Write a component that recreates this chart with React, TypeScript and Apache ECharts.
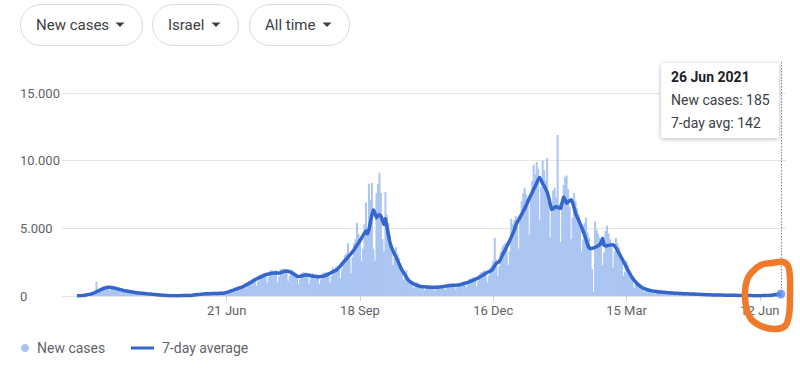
import React, { useEffect, useRef } from "react";
import * as echarts from "echarts";

// Day 0 = 13 Mar 2020, last day = 26 Jun 2021
const casesMar20 = [12, 8, 18, 38, 50, 70, 95, 105, 80, 130, 200, 250, 300, 1050, 380, 290, 420, 620, 700];
const avgMar20 = [10, 15, 20, 30, 45, 60, 80, 100, 120, 140, 170, 210, 260, 310, 370, 420, 470, 520, 570];
const casesApr20 = [690, 720, 650, 420, 560, 740, 700, 640, 600, 470, 300, 380, 480, 440, 410, 390, 330, 200, 260, 320, 300, 270, 260, 210, 130, 180, 230, 210, 180, 170];
const avgApr20 = [600, 630, 640, 640, 630, 610, 590, 560, 530, 500, 470, 440, 410, 390, 370, 350, 330, 310, 290, 270, 250, 240, 230, 220, 210, 200, 190, 175, 160, 150];
const casesMay20 = [130, 80, 100, 125, 115, 100, 90, 65, 35, 42, 48, 40, 33, 28, 20, 10, 16, 22, 24, 25, 28, 26, 15, 24, 32, 36, 50, 70, 80, 60, 95];
const avgMay20 = [140, 130, 120, 110, 100, 90, 80, 70, 60, 50, 40, 35, 30, 25, 22, 20, 18, 18, 20, 22, 25, 28, 30, 30, 28, 30, 35, 45, 60, 75, 90];
const casesJun20 = [120, 130, 125, 140, 120, 95, 140, 190, 200, 190, 195, 165, 110, 160, 220, 225, 210, 230, 210, 150, 230, 340, 400, 430, 470, 430, 300, 460, 640, 720];
const avgJun20 = [100, 110, 120, 130, 140, 150, 160, 165, 170, 175, 180, 185, 190, 190, 190, 195, 200, 210, 225, 245, 270, 300, 340, 380, 420, 460, 500, 540, 580, 620];
const casesJul20 = [720, 780, 720, 520, 760, 1090, 1150, 1200, 1280, 1150, 780, 1100, 1560, 1630, 1620, 1700, 1500, 950, 1400, 1880, 1920, 1850, 1880, 1620, 1020, 1450, 1980, 2020, 1990, 2010, 1750];
const avgJul20 = [650, 700, 760, 820, 880, 940, 1000, 1070, 1140, 1210, 1270, 1320, 1370, 1420, 1470, 1530, 1580, 1610, 1630, 1650, 1670, 1690, 1700, 1710, 1700, 1690, 1720, 1760, 1800, 1830, 1850];
const casesAug20 = [1100, 1500, 1950, 1900, 1780, 1700, 1380, 880, 1250, 1700, 1750, 1720, 1730, 1450, 900, 1300, 1680, 1650, 1600, 1580, 1350, 860, 1230, 1680, 1720, 1750, 1760, 1520, 1000, 1480, 2100];
const avgAug20 = [1830, 1790, 1740, 1680, 1610, 1530, 1460, 1440, 1450, 1480, 1510, 1540, 1560, 1550, 1530, 1500, 1480, 1460, 1450, 1440, 1430, 1430, 1440, 1460, 1490, 1530, 1570, 1620, 1680, 1740, 1800];
const casesSep20 = [2000, 2150, 2250, 1900, 1300, 2000, 2700, 3000, 3150, 3900, 2800, 1700, 2900, 3900, 4200, 5400, 4600, 4200, 2600, 3500, 5300, 6900, 5000, 8300, 7100, 8350, 3500, 2600, 7600, 8300];
const avgSep20 = [1850, 1900, 1980, 2100, 2230, 2370, 2500, 2620, 2740, 2870, 3000, 3130, 3270, 3420, 3580, 3750, 3920, 4100, 4280, 4460, 4650, 4800, 4600, 4900, 5500, 6000, 6350, 6100, 5800, 5950];
const casesOct20 = [9100, 7600, 4200, 3300, 7700, 6000, 5400, 4500, 3800, 2300, 2800, 3600, 3100, 2800, 2400, 2000, 1200, 1600, 1900, 1400, 1300, 1150, 900, 550, 800, 1000, 950, 880, 800, 650, 420];
const avgOct20 = [6000, 5900, 5600, 5300, 5700, 5100, 4500, 3950, 3600, 3350, 3100, 2900, 2650, 2400, 2150, 1930, 1750, 1580, 1400, 1200, 1100, 1020, 950, 890, 840, 790, 750, 720, 700, 690, 680];
const casesNov20 = [520, 780, 760, 750, 720, 620, 380, 560, 780, 790, 800, 770, 700, 450, 650, 880, 900, 920, 910, 800, 500, 700, 960, 950, 1000, 1050, 950, 620, 900, 1250];
const avgNov20 = [670, 660, 650, 645, 640, 640, 640, 645, 650, 660, 675, 690, 710, 730, 745, 760, 770, 780, 790, 795, 800, 805, 815, 840, 870, 905, 940, 975, 1010, 1050];
const casesDec20 = [1300, 1350, 1400, 1250, 700, 1100, 1600, 1750, 1800, 1900, 1700, 1000, 1500, 2100, 2300, 2600, 4300, 2700, 1500, 2200, 3300, 3600, 3800, 3900, 3500, 2300, 3300, 5700, 5300, 5600, 5900];
const avgDec20 = [1090, 1130, 1180, 1230, 1280, 1340, 1400, 1470, 1540, 1610, 1680, 1740, 1790, 1840, 1900, 2050, 2250, 2400, 2470, 2530, 2750, 3000, 3200, 3420, 3640, 3870, 4100, 4350, 4600, 4850, 5200];
const casesJan21 = [5200, 3500, 5800, 7000, 7600, 8000, 7500, 7200, 4500, 7300, 8500, 9700, 9000, 9900, 9400, 5600, 8100, 10000, 9300, 8500, 10200, 7300, 4300, 6400, 7800, 8000, 7300, 11900, 6800, 4000, 6700];
const avgJan21 = [5450, 5650, 5850, 6050, 6250, 6450, 6700, 6950, 7200, 7420, 7650, 7880, 8100, 8350, 8600, 8750, 8550, 8300, 8150, 7900, 7700, 7300, 6800, 6400, 6450, 6550, 6600, 6550, 6500, 6480, 6900];
const casesFeb21 = [8200, 8800, 8900, 7900, 6600, 4200, 5800, 7600, 7000, 6500, 6000, 5300, 3300, 4200, 5400, 5800, 4700, 4300, 3700, 2000, 300, 5500, 4900, 4600, 4300, 3900, 2300, 3200];
const avgFeb21 = [7300, 7100, 6850, 6950, 7050, 7100, 6900, 6500, 6100, 5850, 5600, 5350, 5100, 4800, 4500, 4150, 3800, 3550, 3500, 3520, 3560, 3600, 3650, 3700, 3780, 3950, 4250, 3750];
const casesMar21 = [4800, 5200, 4600, 4200, 3600, 2100, 3300, 4300, 3900, 3600, 3100, 2700, 1500, 1800, 2600, 2300, 1900, 1700, 1300, 600, 900, 1100, 1000, 900, 750, 600, 300, 450, 600, 550, 480];
const avgMar21 = [3700, 3720, 3740, 3760, 3770, 3780, 3700, 3550, 3350, 3150, 2950, 2750, 2550, 2320, 2100, 1900, 1700, 1500, 1320, 1180, 1050, 930, 820, 730, 650, 590, 540, 500, 460, 430, 400];
const casesApr21 = [420, 350, 180, 260, 380, 390, 360, 330, 290, 140, 200, 310, 290, 280, 260, 220, 100, 160, 230, 220, 210, 200, 180, 80, 130, 190, 180, 170, 160, 140];
const avgApr21 = [380, 360, 345, 330, 315, 300, 290, 280, 270, 260, 250, 245, 240, 230, 220, 210, 200, 195, 190, 185, 180, 175, 170, 165, 160, 155, 150, 145, 140, 135];
const casesMay21 = [60, 100, 150, 140, 130, 120, 110, 40, 70, 100, 95, 90, 80, 75, 30, 50, 80, 75, 72, 68, 60, 25, 45, 65, 60, 58, 55, 50, 20, 35, 48];
const avgMay21 = [130, 125, 120, 115, 110, 105, 100, 95, 90, 85, 80, 78, 76, 74, 72, 70, 68, 66, 64, 62, 60, 58, 56, 54, 52, 50, 48, 46, 44, 42, 40];
const casesJun21 = [45, 42, 38, 35, 15, 20, 32, 30, 28, 27, 25, 12, 18, 30, 33, 36, 40, 48, 30, 55, 90, 110, 125, 140, 150, 185];
const avgJun21 = [38, 36, 34, 32, 30, 28, 27, 26, 25, 24, 24, 25, 26, 28, 30, 33, 37, 42, 50, 60, 72, 85, 98, 112, 127, 142];

const newCases = [
  ...casesMar20, ...casesApr20, ...casesMay20, ...casesJun20, ...casesJul20, ...casesAug20,
  ...casesSep20, ...casesOct20, ...casesNov20, ...casesDec20, ...casesJan21, ...casesFeb21,
  ...casesMar21, ...casesApr21, ...casesMay21, ...casesJun21,
];
const avg7 = [
  ...avgMar20, ...avgApr20, ...avgMay20, ...avgJun20, ...avgJul20, ...avgAug20,
  ...avgSep20, ...avgOct20, ...avgNov20, ...avgDec20, ...avgJan21, ...avgFeb21,
  ...avgMar21, ...avgApr21, ...avgMay21, ...avgJun21,
];

// x tick positions (day index from 13 Mar 2020) and labels
const xTickIdx = [100, 189, 278, 367, 456];
const xTickLabels = ["21 Jun", "18 Sep", "16 Dec", "15 Mar", "12 Jun"];
const yTicks = [0, 5000, 10000, 15000];
const filterLabels = ["New cases", "Israel", "All time"];
const tooltipDate = "26 Jun 2021";

const BAR_COLOR = "#abc5f2";
const LINE_COLOR = "#3566cc";
const FONT = "Roboto, 'Noto Sans', sans-serif";

function fmtDots(v: number) {
  return String(v).replace(/\B(?=(\d{3})+(?!\d))/g, ".");
}

export default function App() {
  const ref = useRef<HTMLDivElement>(null);
  useEffect(() => {
    if (!ref.current) return;
    const chart = echarts.init(ref.current, undefined, { renderer: "svg" });
    const last = avg7.length - 1;

    const pills = [
      { x: 20, w: 122 },
      { x: 152, w: 86 },
      { x: 249, w: 100 },
    ];
    const pillGraphics: any[] = [];
    pills.forEach((p, i) => {
      pillGraphics.push({
        type: "rect",
        shape: { x: p.x + 0.5, y: 4.5, width: p.w, height: 41, r: 20.5 },
        style: { fill: "#fff", stroke: "#dadce0", lineWidth: 1 },
      });
      pillGraphics.push({
        type: "text",
        style: {
          text: filterLabels[i],
          x: p.x + 16,
          y: 25,
          fill: "#3c4043",
          font: `15px ${FONT}`,
          verticalAlign: "middle",
        },
      });
      const ax = p.x + p.w - 22;
      pillGraphics.push({
        type: "polygon",
        shape: { points: [[ax - 4.5, 22.5], [ax + 4.5, 22.5], [ax, 27]] },
        style: { fill: "#3c4043" },
      });
    });

    chart.setOption({
      animation: false,
      grid: { left: 62, right: 14, top: 93, bottom: 72 },
      xAxis: {
        type: "value",
        min: -10,
        max: 473.5,
        splitLine: { show: false },
        axisLine: { show: false },
        axisTick: {
          show: true,
          customValues: xTickIdx,
          length: 5,
          lineStyle: { color: "#d0d0d0" },
        },
        axisLabel: {
          customValues: xTickIdx,
          formatter: (v: number) => xTickLabels[xTickIdx.indexOf(Math.round(v))] ?? "",
          color: "#5f6368",
          fontSize: 13,
          fontFamily: FONT,
          margin: 8,
        },
      },
      yAxis: {
        type: "value",
        min: yTicks[0],
        max: yTicks[yTicks.length - 1],
        interval: 5000,
        axisLine: { show: false },
        axisTick: { show: false },
        splitLine: { lineStyle: { color: "#e4e4e4" } },
        axisLabel: {
          formatter: (v: number) => fmtDots(v),
          align: "left",
          margin: 42,
          color: "#5f6368",
          fontSize: 13,
          fontFamily: FONT,
        },
      },
      series: [
        {
          name: "New cases",
          type: "bar",
          data: newCases.map((v, i) => [i, v]),
          barWidth: 2,
          itemStyle: { color: BAR_COLOR },
          z: 2,
        },
        {
          name: "7-day average",
          type: "line",
          data: avg7.map((v, i) => [i, v]),
          symbol: "none",
          lineStyle: { color: LINE_COLOR, width: 3.5, join: "round" },
          z: 3,
        },
        {
          name: "highlight",
          type: "scatter",
          data: [[last, avg7[last]]],
          symbolSize: 9,
          itemStyle: { color: "#5b8def" },
          z: 5,
        },
      ],
      graphic: [
        ...pillGraphics,
        {
          type: "line",
          shape: { x1: 781.5, y1: 62, x2: 781.5, y2: 296 },
          style: { stroke: "#8a8a8a", lineWidth: 1, lineDash: [1.5, 1.5] },
          z: 1,
        },
        {
          type: "rect",
          shape: { x: 661, y: 63, width: 118, height: 75, r: 2 },
          style: {
            fill: "#fff",
            shadowBlur: 5,
            shadowColor: "rgba(0,0,0,0.28)",
            shadowOffsetY: 1,
          },
          z: 10,
        },
        {
          type: "text",
          style: { text: tooltipDate, x: 671, y: 77, font: `bold 14px ${FONT}`, fill: "#202124", verticalAlign: "middle" },
          z: 11,
        },
        {
          type: "text",
          style: { text: `New cases: ${newCases[last]}`, x: 671, y: 100, font: `14px ${FONT}`, fill: "#3c4043", verticalAlign: "middle" },
          z: 11,
        },
        {
          type: "text",
          style: { text: `7-day avg: ${avg7[last]}`, x: 671, y: 123, font: `14px ${FONT}`, fill: "#3c4043", verticalAlign: "middle" },
          z: 11,
        },
        {
          type: "polygon",
          shape: {
            points: [
              [752, 272], [761, 265], [772, 263], [783, 262], [788, 266], [790, 278],
              [790, 297], [789, 315], [785, 326], [774, 329], [761, 326], [751, 319],
              [746, 306], [745, 292], [747, 280],
            ],
            smooth: 0.35,
          },
          style: { fill: "none", stroke: "#ef7a2a", lineWidth: 6.5, lineJoin: "round" },
          z: 12,
        },
        { type: "circle", shape: { cx: 25, cy: 348, r: 4 }, style: { fill: BAR_COLOR } },
        {
          type: "text",
          style: { text: "New cases", x: 37, y: 348, font: `14px ${FONT}`, fill: "#5f6368", verticalAlign: "middle" },
        },
        { type: "rect", shape: { x: 131, y: 346.5, width: 23, height: 3 }, style: { fill: LINE_COLOR } },
        {
          type: "text",
          style: { text: "7-day average", x: 162, y: 348, font: `14px ${FONT}`, fill: "#5f6368", verticalAlign: "middle" },
        },
      ],
    });
    return () => chart.dispose();
  }, []);
  return (
    <div
      ref={ref}
      style={{ position: "fixed", left: 0, top: 0, width: 800, height: 368, background: "#fff" }}
    />
  );
}
